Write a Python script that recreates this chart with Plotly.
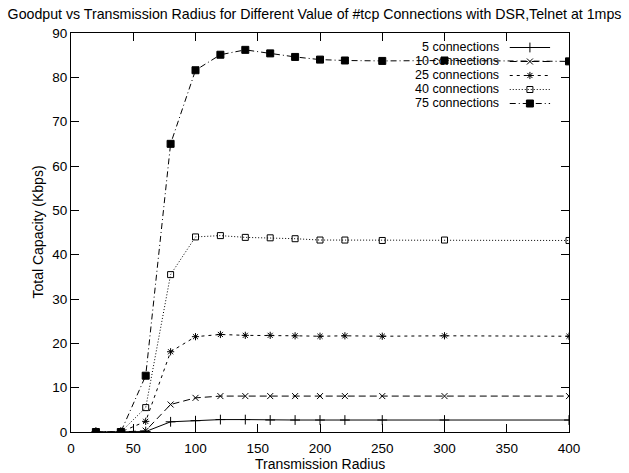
import plotly.graph_objects as go

radius = [20, 40, 60, 80, 100, 120, 140, 160, 180, 200, 220, 250, 300, 400]
conn5 = [0, 0, 0.1, 2.3, 2.55, 2.8, 2.8, 2.7, 2.7, 2.7, 2.7, 2.7, 2.7, 2.7]
conn10 = [0, 0, 0.3, 6.2, 7.7, 8.1, 8.1, 8.1, 8.1, 8.1, 8.1, 8.1, 8.1, 8.1]
conn25 = [0, 0, 2.4, 18.1, 21.5, 22.0, 21.8, 21.8, 21.7, 21.6, 21.7, 21.6, 21.7, 21.6]
conn40 = [0, 0, 5.5, 35.5, 44.0, 44.3, 43.9, 43.8, 43.6, 43.3, 43.3, 43.2, 43.3, 43.2]
conn75 = [0, 0, 12.7, 65.0, 81.6, 85.1, 86.2, 85.4, 84.6, 84.0, 83.8, 83.7, 83.8, 83.6]

names = ["5 connections", "10 connections", "25 connections", "40 connections", "75 connections"]
series = [conn5, conn10, conn25, conn40, conn75]
dashes = ["solid", "7px,4px", "3px,4px", "1px,2px", "6px,3px,1px,3px"]
symbols = ["cross-thin-open", "x-thin-open", "asterisk-open", "square-open", "square"]
sizes = [7, 6, 6, 6, 7]

FONT = "Liberation Sans, Arial, sans-serif"

fig = go.Figure()
for name, ys, d, s, sz in zip(names, series, dashes, symbols, sizes):
    fig.add_trace(go.Scatter(
        x=radius, y=ys, mode="lines+markers", name=name, showlegend=False,
        line=dict(color="black", width=1, dash=d),
        marker=dict(symbol=s, size=sz, color="black",
                    line=dict(color="black", width=1)),
    ))

# gnuplot-style key: text on the left, sample on the right
key_px = [47.5, 61.5, 75.5, 89.5, 103.5]
key_y = [(432 - p) / 399 for p in key_px]
for name, ky, d, s, sz in zip(names, key_y, dashes, symbols, sizes):
    fig.add_trace(go.Scatter(
        x=[0.881, 0.9215, 0.962], y=[ky, ky, ky], xaxis="x2", yaxis="y2",
        mode="lines", showlegend=False, hoverinfo="skip",
        line=dict(color="black", width=1, dash=d),
    ))
    fig.add_trace(go.Scatter(
        x=[0.9215], y=[ky], xaxis="x2", yaxis="y2",
        mode="markers", showlegend=False, hoverinfo="skip",
        marker=dict(symbol=s, size=sz, color="black",
                    line=dict(color="black", width=1)),
    ))
    fig.add_annotation(x=0.862, y=ky, xref="paper", yref="paper",
                       text=name, showarrow=False, xanchor="right",
                       yanchor="middle", borderpad=0,
                       font=dict(size=12.5, color="black", family=FONT))

# axis titles
fig.add_annotation(x=0.5, y=(432 - 464) / 399, xref="paper", yref="paper",
                   text="Transmission Radius", showarrow=False,
                   xanchor="center", yanchor="middle",
                   font=dict(size=14, color="black", family=FONT))
fig.add_annotation(x=(37 - 71) / 498, y=0.5, xref="paper", yref="paper",
                   text="Total Capacity (Kbps)", showarrow=False, textangle=-90,
                   xanchor="center", yanchor="middle",
                   font=dict(size=14, color="black", family=FONT))

fig.update_layout(
    width=629, height=473,
    margin=dict(l=71, r=60, t=33, b=41),
    paper_bgcolor="white", plot_bgcolor="white",
    font=dict(family=FONT, size=13.5, color="black"),
    title=dict(text="Goodput vs Transmission Radius for Different Value of #tcp Connections with DSR,Telnet at 1mps",
               x=0.5, xref="container", xanchor="center", y=1 - 14 / 473, yref="container",
               yanchor="middle", font=dict(size=14.2, family=FONT, color="black")),
    xaxis=dict(range=[0, 400], tickvals=[0, 50, 100, 150, 200, 250, 300, 350, 400],
               ticks="inside", ticklen=8, tickcolor="black", mirror="allticks",
               showline=True, linecolor="black", linewidth=1, showgrid=False, zeroline=False,
               ticklabelstandoff=4, tickfont=dict(size=13.5)),
    yaxis=dict(range=[0, 90], tickvals=list(range(0, 91, 10)),
               ticks="inside", ticklen=8, tickcolor="black", mirror="allticks",
               showline=True, linecolor="black", linewidth=1, showgrid=False, zeroline=False,
               tickfont=dict(size=13.5)),
    xaxis2=dict(overlaying="x", range=[0, 1], visible=False),
    yaxis2=dict(overlaying="y", range=[0, 1], visible=False),
)

fig.write_html("out.html")
